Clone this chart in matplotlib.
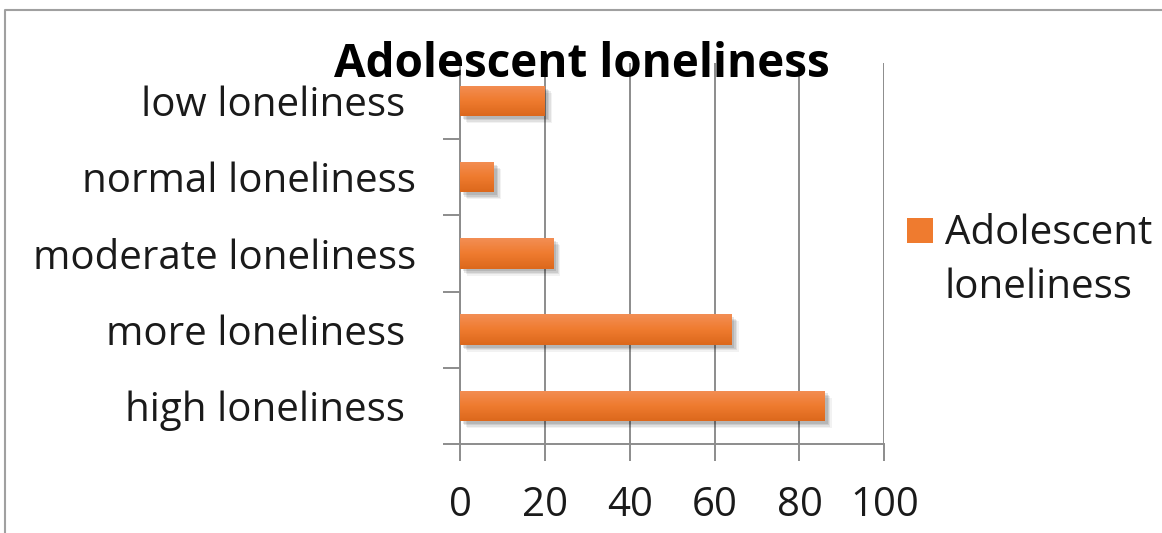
import numpy as np
import matplotlib
matplotlib.use("Agg")
import matplotlib.pyplot as plt
import matplotlib.patheffects as pe
from matplotlib.colors import LinearSegmentedColormap
from matplotlib.lines import Line2D
from matplotlib.patches import Rectangle

# survey results, bottom bar first
categories = ["high loneliness ", "more loneliness ", "moderate loneliness",
              "normal loneliness", "low loneliness "]
values = [86, 64, 22, 8, 20]
series_name = "Adolescent loneliness"
legend_label = "Adolescent\nloneliness"
x_ticks = [0, 20, 40, 60, 80, 100]

plt.rcParams["font.family"] = ["Open Sans", "DejaVu Sans"]

grid_gray = "#8c8c8c"
text_color = "#1a1a1a"
orange = "#ef7b2f"
bar_cmap = LinearSegmentedColormap.from_list(
    "bar_grad", ["#dc681c", "#ef7b2f", "#f38e54"])

fig = plt.figure(figsize=(11.62, 5.33), dpi=100)
ax = fig.add_axes([0.396, 0.167, 0.365, 0.715])

ypos = np.arange(len(categories))
shadow = [pe.SimplePatchShadow(offset=(d, -d), shadow_rgbFace="k", alpha=a)
          for d, a in [(5, 0.05), (4, 0.07), (3, 0.09), (2, 0.1)]]
bars = ax.barh(ypos, values, height=0.4, color=orange, zorder=3,
               path_effects=shadow + [pe.Normal()])

# vertical shading on each bar
grad = np.linspace(0, 1, 64).reshape(-1, 1)
for b in bars:
    x0, y0 = b.get_x(), b.get_y()
    im = ax.imshow(grad, cmap=bar_cmap, aspect="auto", origin="lower",
                   extent=(x0, x0 + b.get_width(), y0, y0 + b.get_height()),
                   zorder=4, interpolation="bilinear")
    im.set_clip_path(b)

ax.set_xlim(0, 100)
ax.set_ylim(-0.5, len(categories) - 0.5)
ax.set_xticks(x_ticks)
ax.set_yticks(ypos)
ax.set_yticklabels(categories)
ax.set_yticks(np.arange(-0.5, len(categories)), minor=True)

ax.grid(axis="x", color=grid_gray, linewidth=1.4, zorder=0)
ax.set_axisbelow(True)
for side in ["top", "right"]:
    ax.spines[side].set_visible(False)
for side in ["left", "bottom"]:
    ax.spines[side].set_color(grid_gray)
    ax.spines[side].set_linewidth(1.4)

ax.tick_params(axis="y", which="major", length=0, pad=32,
               labelsize=29, labelcolor=text_color)
ax.tick_params(axis="y", which="minor", length=12, width=1.4,
               color=grid_gray, direction="out")
ax.tick_params(axis="x", length=12, width=1.4, color=grid_gray,
               direction="out", pad=18, labelsize=29, labelcolor=text_color)

fig.text(0.501, 1 - 77 / 533, series_name, ha="center", va="baseline",
         fontsize=33, fontweight="bold", color="black", zorder=10)

# legend: swatch next to the first line of the series name
fig.add_artist(Rectangle((907 / 1162, 1 - 243 / 533), 26 / 1162, 25 / 533,
                         transform=fig.transFigure, facecolor=orange,
                         edgecolor="none"))
fig.text(945 / 1162, 1 - 298 / 533, legend_label, ha="left", va="baseline",
         fontsize=29, color=text_color, linespacing=1.45)

# outer chart border
fig.add_artist(Line2D([0.004, 0.004, 1.0], [0.0, 0.982, 0.982],
                      transform=fig.transFigure, color="#a0a0a0", linewidth=1.5))

fig.savefig("out.png", dpi=100)
